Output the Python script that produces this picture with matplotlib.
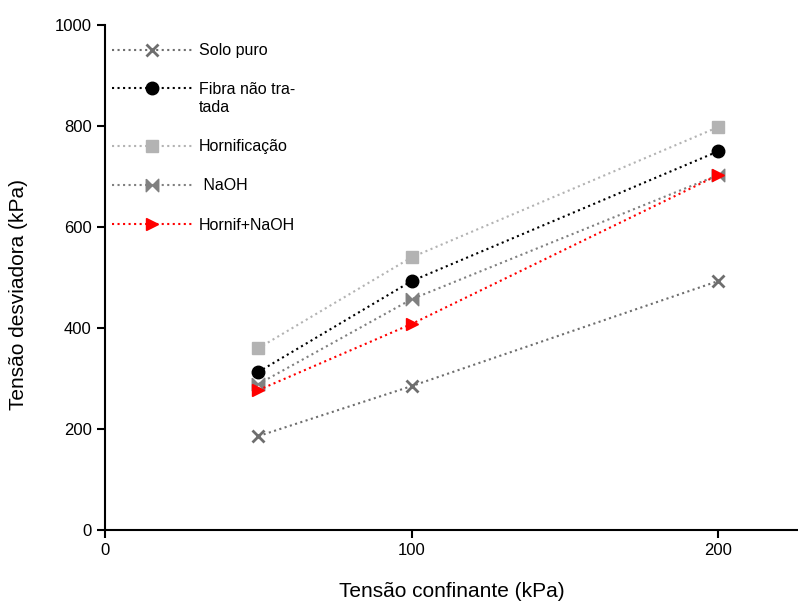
import matplotlib.pyplot as plt
from matplotlib.path import Path

x = [50, 100, 200]
solo_puro = [186, 285, 493]
fibra_nao_tratada = [313, 493, 750]
hornificacao = [360, 540, 798]
naoh = [289, 457, 703]
hornif_naoh = [277, 408, 703]

# bowtie marker (two triangles pointing to the centre)
bowtie = Path([(-1, 1), (0, 0), (1, 1), (1, -1), (0, 0), (-1, -1), (-1, 1)])

plt.rcParams["font.family"] = ["Liberation Sans", "DejaVu Sans"]

fig = plt.figure(figsize=(7.98, 6.01), dpi=100)
ax = fig.add_axes([0.1316, 0.1181, 0.8684, 0.8403])

ax.plot(x, solo_puro, ls=":", lw=1.5, color="#6e6e6e", marker="x",
        ms=8, mew=2, label="Solo puro")
ax.plot(x, fibra_nao_tratada, ls=":", lw=1.5, color="black", marker="o",
        ms=9, label="Fibra não tra-\ntada")
ax.plot(x, hornificacao, ls=":", lw=1.5, color="#b3b3b3", marker="s",
        ms=8, label="Hornificação")
ax.plot(x, naoh, ls=":", lw=1.5, color="#808080", marker=bowtie,
        ms=9, label=" NaOH")
ax.plot(x, hornif_naoh, ls=":", lw=1.5, color="red", marker=">",
        ms=9, label="Hornif+NaOH")

ax.set_xlim(0, 226)
ax.set_ylim(0, 1000)
ax.set_xticks([0, 100, 200])
ax.set_yticks([0, 200, 400, 600, 800, 1000])

for s in ["top", "right"]:
    ax.spines[s].set_visible(False)
for s in ["left", "bottom"]:
    ax.spines[s].set_linewidth(1.5)
ax.tick_params(direction="out", length=6, width=1.5, labelsize=12)

ax.set_xlabel("Tensão confinante (kPa)", fontsize=15, labelpad=17)
ax.set_ylabel("Tensão desviadora (kPa)", fontsize=15)
ax.yaxis.set_label_coords(-0.111, 0.467)

leg = ax.legend(loc="upper left", frameon=False, fontsize=11.5,
                handlelength=5.0, handletextpad=0.45, labelspacing=1.52,
                borderaxespad=0, borderpad=0,
                bbox_to_anchor=(0.010, 0.964))
# put the two-line entry's marker next to its first line
rows = leg._legend_handle_box.get_children()[0].get_children()
rows[1].align = "top"

fig.savefig("out.png", dpi=100)
